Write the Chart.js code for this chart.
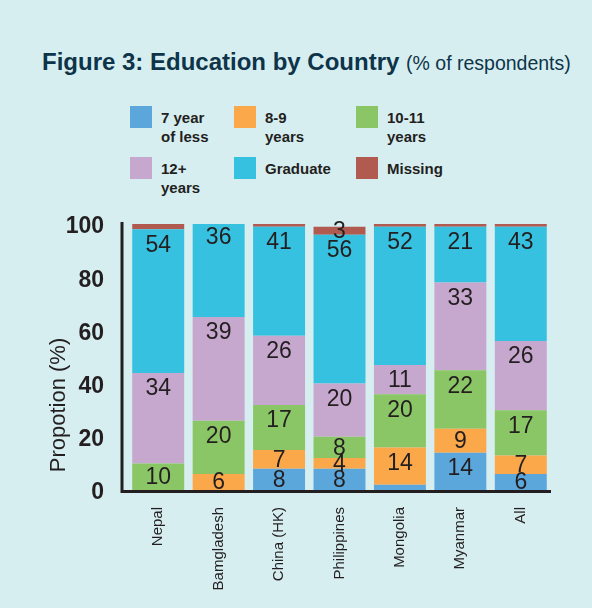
<!DOCTYPE html>
<html>
<head>
<meta charset="utf-8">
<script src="https://cdn.jsdelivr.net/npm/chart.js@4"></script>
<style>
  html, body { margin: 0; padding: 0; }
  body { width: 592px; height: 608px; background: #d7eef1; position: relative; overflow: hidden; }
  #title { position: absolute; left: 42px; top: 48px; white-space: nowrap; color: #0e3449;
           font: bold 24px "Liberation Sans", Arial, sans-serif; }
  #title span { font: 19.5px "Liberation Sans", sans-serif; }
  .lg { position: absolute; display: flex; align-items: flex-start; }
  .lg i { display: block; width: 22px; height: 22px; margin-right: 9px; }
  .lg b { font: bold 15px/19px "Liberation Sans", sans-serif; color: #231f20;
          white-space: pre; margin-top: 2px; }
  canvas { position: absolute; left: 0; top: 0; }
</style>
</head>
<body>
<div id="title">Figure 3: Education by Country <span>(% of respondents)</span></div>
<div id="legend"></div>
<canvas id="chart" width="592" height="608"></canvas>
<script>
const countries = ['Nepal', 'Bamgladesh', 'China (HK)', 'Philippines', 'Mongolia', 'Myanmar', 'All']
const seriesNames = ['7 year\nof less', '8-9\nyears', '10-11\nyears', '12+\nyears', 'Graduate', 'Missing']
const sevenOrLess = [0, 0, 8, 8, 2, 14, 6]
const eightToNine = [0, 6, 7, 4, 14, 9, 7]
const tenToEleven = [10, 20, 17, 8, 20, 22, 17]
const twelvePlus = [34, 39, 26, 20, 11, 33, 26]
const graduate = [54, 36, 41, 56, 52, 21, 43]
const missing = [2, 0, 1, 3, 1, 1, 1]
const yTicks = [0, 20, 40, 60, 80, 100]

const colors = ['#5ba7dc', '#fba84a', '#8ac665', '#c6a7ce', '#35c1df', '#b05a50']
const values = [sevenOrLess, eightToNine, tenToEleven, twelvePlus, graduate, missing]

// legend, 3 columns x 2 rows
const legendPos = [[130, 106], [234, 106], [356, 106], [130, 157], [234, 157], [356, 157]]
const legend = document.getElementById('legend')
seriesNames.forEach((name, i) => {
  const d = document.createElement('div')
  d.className = 'lg'
  d.style.left = legendPos[i][0] + 'px'
  d.style.top = legendPos[i][1] + 'px'
  d.innerHTML = '<i style="background:' + colors[i] + '"></i><b></b>'
  d.querySelector('b').textContent = name
  legend.appendChild(d)
})

const FONT = '"Liberation Sans", Arial, sans-serif'
const INK = '#231f20'

const segmentLabels = {
  id: 'segmentLabels',
  afterDatasetsDraw(chart) {
    const ctx = chart.ctx
    ctx.save()
    ctx.font = '23px ' + FONT
    ctx.fillStyle = INK
    ctx.textAlign = 'center'
    ctx.textBaseline = 'middle'
    chart.data.datasets.forEach((ds, di) => {
      chart.getDatasetMeta(di).data.forEach((bar, i) => {
        const v = ds.data[i]
        if (v < 3) return
        const top = bar.y, bottom = bar.base
        const y = Math.min(top + 16, (top + bottom) / 2 + 1)
        ctx.fillText(String(v), bar.x, y)
      })
    })
    ctx.restore()
  }
}

// axis lines sit a little left of the first category, plus the rotated axis title
const axesDecor = {
  id: 'axesDecor',
  afterDraw(chart) {
    const ctx = chart.ctx
    const a = chart.chartArea
    ctx.save()
    ctx.strokeStyle = INK
    ctx.lineWidth = 3
    ctx.beginPath()
    ctx.moveTo(a.left - 6, a.top - 2)
    ctx.lineTo(a.left - 6, a.bottom + 3)
    ctx.moveTo(a.left - 7.5, a.bottom + 1.5)
    ctx.lineTo(a.right, a.bottom + 1.5)
    ctx.stroke()

    ctx.translate(59, 405)
    ctx.rotate(-Math.PI / 2)
    ctx.font = '22px ' + FONT
    ctx.fillStyle = INK
    ctx.textAlign = 'center'
    ctx.textBaseline = 'middle'
    ctx.fillText('Propotion (%)', 0, 0)
    ctx.restore()
  }
}

new Chart(document.getElementById('chart'), {
  type: 'bar',
  data: {
    labels: countries,
    datasets: values.map((data, i) => ({
      label: seriesNames[i].replace('\n', ' '),
      data: data,
      backgroundColor: colors[i],
      borderWidth: 0,
      barPercentage: 0.86,
      categoryPercentage: 1
    }))
  },
  options: {
    responsive: false,
    animation: false,
    layout: { padding: { left: 20, right: 41, top: 224, bottom: 0 } },
    plugins: { legend: { display: false }, tooltip: { enabled: false } },
    scales: {
      x: {
        stacked: true,
        grid: { display: false },
        border: { display: false },
        ticks: {
          maxRotation: 90, minRotation: 90, padding: 9,
          color: INK, font: { family: FONT, size: 15 }
        },
        afterFit(s) { s.height = 118 }
      },
      y: {
        stacked: true,
        min: 0, max: 100,
        afterBuildTicks(s) { s.ticks = yTicks.map(v => ({ value: v })) },
        grid: { display: false },
        border: { display: false },
        ticks: {
          padding: 16, labelOffset: 3, color: INK,
          font: { family: FONT, size: 23, weight: 'bold' }
        },
        afterFit(s) { s.width = 108 }
      }
    }
  },
  plugins: [segmentLabels, axesDecor]
})
</script>
</body>
</html>
